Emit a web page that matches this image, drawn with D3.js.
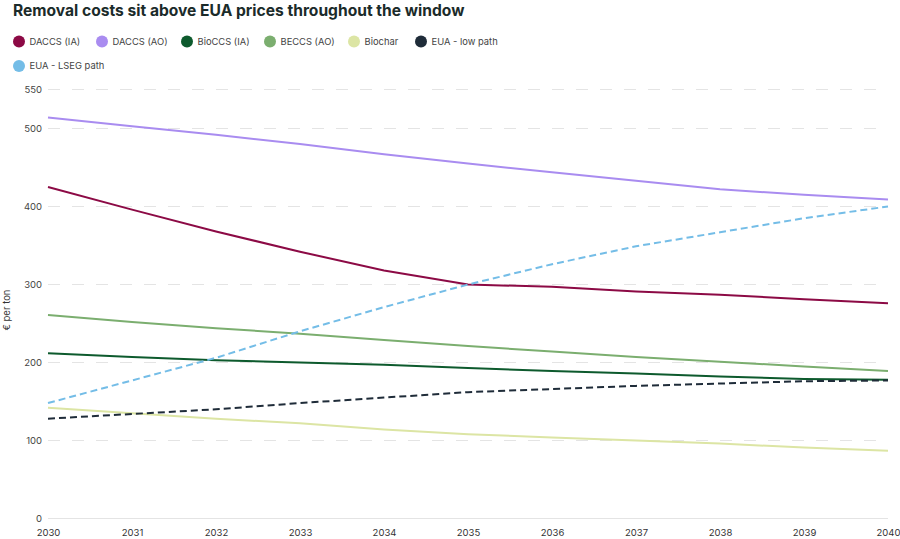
<!DOCTYPE html>
<head>
<meta charset="utf-8">
<style>
  body { margin: 0; background: #fff; font-family: Inter, "Noto Sans", sans-serif; }
</style>
</head>
<body>
<div id="chart_container"></div>
<script src="https://cdn.jsdelivr.net/npm/d3@7"></script>
<script>

const years = [2030, 2031, 2032, 2033, 2034, 2035, 2036, 2037, 2038, 2039, 2040]

const daccsIA  = [425, 396, 368, 342, 318, 300, 297, 291, 287, 281, 276]
const daccsAO  = [514, 503, 492, 480, 467, 455, 444, 433, 422, 415, 409]
const bioccsIA = [212, 207, 203, 200, 197, 193, 189, 186, 182, 179, 178]
const beccsAO  = [261, 252, 244, 237, 229, 221, 214, 207, 201, 195, 189]
const biochar  = [142, 135, 128, 122, 114, 108, 104, 100, 96, 91, 87]
const euaLow   = [128, 134, 140, 148, 155, 162, 166, 170, 173, 176, 177]
const euaLseg  = [148, 177, 206, 240, 271, 300, 326, 349, 367, 385, 400]

const yTicks = [0, 100, 200, 300, 400, 500, 550]

const seriesNames = ['DACCS (IA)', 'DACCS (AO)', 'BioCCS (IA)', 'BECCS (AO)', 'Biochar', 'EUA - low path', 'EUA - LSEG path']
const seriesValues = [daccsIA, daccsAO, bioccsIA, beccsAO, biochar, euaLow, euaLseg]
const seriesColors = ['#8c0a45', '#a98cf0', '#0d5a2d', '#7bae6f', '#dce5a4', '#1f2c39', '#74bde7']
const seriesDashed = [false, false, false, false, false, true, true]

const width = 900
const height = 539
const margin = { left: 48, right: 12, top: 89.5, bottom: 20.5 }

const svg = d3.select('#chart_container')
  .append('svg')
  .attr('width', width)
  .attr('height', height)

svg.append('text')
  .attr('x', 13)
  .attr('y', 15.5)
  .attr('font-size', 15.6)
  .attr('font-weight', 700)
  .attr('fill', '#1b2b2a')
  .text('Removal costs sit above EUA prices throughout the window')

// legend
const legendPos = [[19, 41.5], [102, 41.5], [187, 41.5], [270, 41.5], [354, 41.5], [421, 41.5], [19, 66]]
const legend = svg.append('g')
  .selectAll('g')
  .data(seriesNames)
  .enter()
  .append('g')
  .attr('transform', (d, i) => `translate(${legendPos[i][0]}, ${legendPos[i][1]})`)

legend.append('circle')
  .attr('r', 6)
  .attr('fill', (d, i) => seriesColors[i])

legend.append('text')
  .attr('x', 10.5)
  .attr('dy', '0.35em')
  .attr('font-size', 9.4)
  .attr('fill', '#444')
  .text(d => d)

const xScale = d3.scaleLinear()
  .domain([2030, 2040])
  .range([margin.left, width - margin.right])

const yScale = d3.scaleLinear()
  .domain([0, 550])
  .range([height - margin.bottom, margin.top])

// gridlines
svg.append('g')
  .selectAll('line')
  .data(yTicks)
  .enter()
  .append('line')
  .attr('x1', margin.left)
  .attr('x2', width - margin.right)
  .attr('y1', d => yScale(d))
  .attr('y2', d => yScale(d))
  .attr('stroke', '#e4e4e4')
  .attr('stroke-width', 1)
  .attr('stroke-dasharray', d => d === 0 ? null : '12,12')

const yAxis = d3.axisLeft(yScale).tickValues(yTicks).tickSize(0).tickPadding(6)
svg.append('g')
  .attr('id', 'y-axis')
  .attr('transform', `translate(${margin.left}, 0)`)
  .call(yAxis)
  .call(g => g.select('.domain').remove())
  .call(g => g.selectAll('text')
    .attr('font-family', 'Inter, sans-serif')
    .attr('font-size', 9.5)
    .attr('fill', '#444'))

const xAxis = d3.axisBottom(xScale).tickValues(years).tickFormat(d3.format('d')).tickSize(0).tickPadding(11)
svg.append('g')
  .attr('id', 'x-axis')
  .attr('transform', `translate(0, ${height - margin.bottom})`)
  .call(xAxis)
  .call(g => g.select('.domain').remove())
  .call(g => g.selectAll('text')
    .attr('font-family', 'Inter, sans-serif')
    .attr('font-size', 9.5)
    .attr('fill', '#333'))

svg.append('text')
  .attr('transform', 'rotate(-90)')
  .attr('x', -310)
  .attr('y', 10)
  .attr('text-anchor', 'middle')
  .attr('font-size', 9.5)
  .attr('fill', '#333')
  .text('€ per ton')

const line = d3.line()
  .x((d, i) => xScale(years[i]))
  .y(d => yScale(d))

svg.append('g')
  .selectAll('path')
  .data(seriesValues)
  .enter()
  .append('path')
  .attr('d', d => line(d))
  .attr('fill', 'none')
  .attr('stroke', (d, i) => seriesColors[i])
  .attr('stroke-width', 2)
  .attr('stroke-dasharray', (d, i) => seriesDashed[i] ? '7,4' : null)

</script>
</body>
